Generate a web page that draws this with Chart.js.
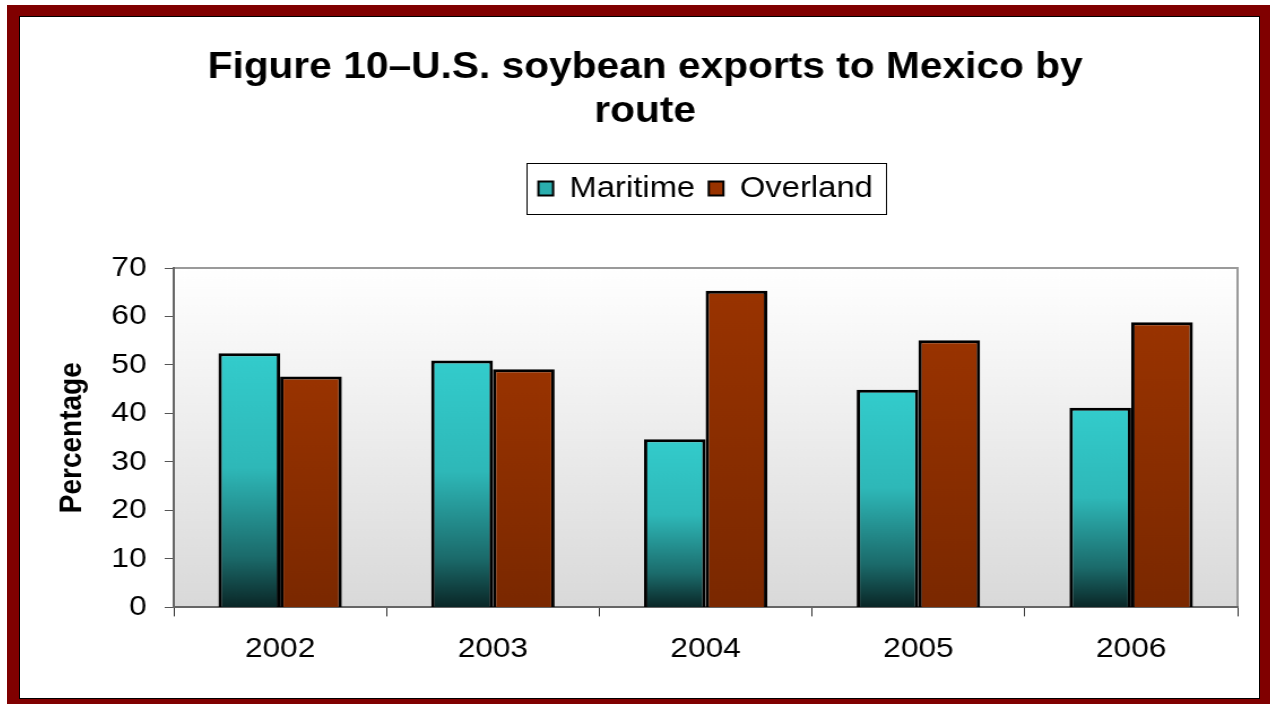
<!DOCTYPE html>
<html>
<head>
<meta charset="utf-8">
<script src="https://cdn.jsdelivr.net/npm/chart.js@4"></script>
<style>
  html, body { margin: 0; padding: 0; background: #fff; overflow: hidden; }
  #frame {
    position: absolute; left: 7px; top: 5px; width: 1280px; height: 720px;
    background: #800000;
  }
  #panel {
    position: absolute; left: 19px; top: 16px; width: 1239px; height: 681px;
    background: #fff; border: 1px solid #000;
  }
  canvas { display: block; }
</style>
</head>
<body>
<div id="frame"></div>
<div id="panel"><canvas id="chart" width="1096" height="681" style="width:1239px;height:681px"></canvas></div>
<script>
const years = ["2002", "2003", "2004", "2005", "2006"];
const maritime = [52.4, 50.9, 34.7, 44.9, 41.2];
const overland = [47.6, 49.1, 65.3, 55.1, 58.8];
const titleLines = ["Figure 10\u2013U.S. soybean exports to Mexico by", "route"];

const font = "'Liberation Sans', Arial, sans-serif";

// gradient per bar, from the bar's top down to the axis
function barFill(stops, fallback) {
    return ctx => {
        const chart = ctx.chart;
        if (ctx.type !== "data" || !chart.chartArea) return fallback;
        const y = chart.scales.y;
        const top = y.getPixelForValue(ctx.raw);
        const base = y.getPixelForValue(0);
        const g = chart.ctx.createLinearGradient(0, top, 0, base);
        stops.forEach(s => g.addColorStop(s[0], s[1]));
        return g;
    };
}

const plotFrame = {
    id: "plotFrame",
    beforeDraw(chart) {
        const a = chart.chartArea;
        const c = chart.ctx;
        const g = c.createLinearGradient(0, a.top, 0, a.bottom);
        g.addColorStop(0, "#ffffff");
        g.addColorStop(1, "#d9d9d9");
        c.save();
        c.fillStyle = g;
        c.fillRect(a.left, a.top, a.right - a.left, a.bottom - a.top);
        c.strokeStyle = "#9a9a9a";
        c.lineWidth = 2;
        c.beginPath();
        c.moveTo(a.left, a.top);
        c.lineTo(a.right, a.top);
        c.lineTo(a.right, a.bottom);
        c.stroke();
        c.restore();
    },
    afterDraw(chart) {
        const boxes = chart.legend.legendHitBoxes;
        if (!boxes || !boxes.length) return;
        let l = Infinity, r = -Infinity, t = Infinity, b = -Infinity;
        boxes.forEach(h => {
            l = Math.min(l, h.left); r = Math.max(r, h.left + h.width);
            t = Math.min(t, h.top); b = Math.max(b, h.top + h.height);
        });
        const c = chart.ctx;
        c.save();
        c.strokeStyle = "#000";
        c.lineWidth = 1;
        c.strokeRect(Math.round(l - 11) + 0.5, Math.round(t - 11) + 0.5, Math.round(r - l + 22), Math.round(b - t + 22));
        c.restore();
    }
};

new Chart(document.getElementById("chart"), {
    type: "bar",
    data: {
        labels: years,
        datasets: [{
            label: "Maritime",
            data: maritime,
            backgroundColor: barFill([[0, "#33cccc"], [0.45, "#2eb8b8"], [0.8, "#1b6b6b"], [1, "#0a2626"]], "#2ab0b0"),
            borderColor: "#000",
            borderWidth: 3
        }, {
            label: "Overland",
            data: overland,
            backgroundColor: barFill([[0, "#993300"], [1, "#7a2800"]], "#8f3000"),
            borderColor: "#000",
            borderWidth: 3
        }]
    },
    options: {
        responsive: false,
        animation: false,
        devicePixelRatio: 1,
        layout: { padding: { left: 29, right: 19, top: 0, bottom: 16 } },
        datasets: { bar: { categoryPercentage: 0.58, barPercentage: 1 } },
        plugins: {
            title: {
                display: true,
                text: titleLines,
                color: "#000",
                font: { family: font, size: 36, weight: "bold", lineHeight: 44 / 36 },
                padding: { top: 29, bottom: 28 }
            },
            // blank spacer between legend and plot
            subtitle: {
                display: true,
                text: " ",
                weight: 500,
                fullSize: false,
                font: { size: 10, lineHeight: 1 },
                padding: { top: 0, bottom: 45 }
            },
            legend: {
                fullSize: false,
                labels: {
                    color: "#000",
                    font: { family: font, size: 29 },
                    boxWidth: 13,
                    boxHeight: 14,
                    padding: 12,
                    generateLabels: () => [
                        { text: "Maritime", fillStyle: "#2aaeae", strokeStyle: "#000", lineWidth: 2, datasetIndex: 0 },
                        { text: "Overland", fillStyle: "#993300", strokeStyle: "#000", lineWidth: 2, datasetIndex: 1 }
                    ]
                }
            },
            tooltip: { enabled: false }
        },
        scales: {
            x: {
                grid: { offset: true, drawOnChartArea: false, drawTicks: true, tickLength: 9, color: "#333", lineWidth: 1 },
                border: { color: "#666", width: 2 },
                ticks: { color: "#000", font: { family: font, size: 28 }, padding: 16 }
            },
            y: {
                min: 0,
                max: 70,
                afterFit: scale => { scale.width = 107; },
                grid: { drawOnChartArea: false, drawTicks: true, tickLength: 8, color: "#555" },
                border: { color: "#666", width: 2 },
                ticks: { stepSize: 10, color: "#000", font: { family: font, size: 28 }, padding: 16 },
                title: {
                    display: true,
                    text: "Percentage",
                    color: "#000",
                    font: { family: font, size: 28, weight: "bold" },
                    padding: { top: 0, bottom: 18 }
                }
            }
        }
    },
    plugins: [plotFrame]
});
</script>
</body>
</html>
